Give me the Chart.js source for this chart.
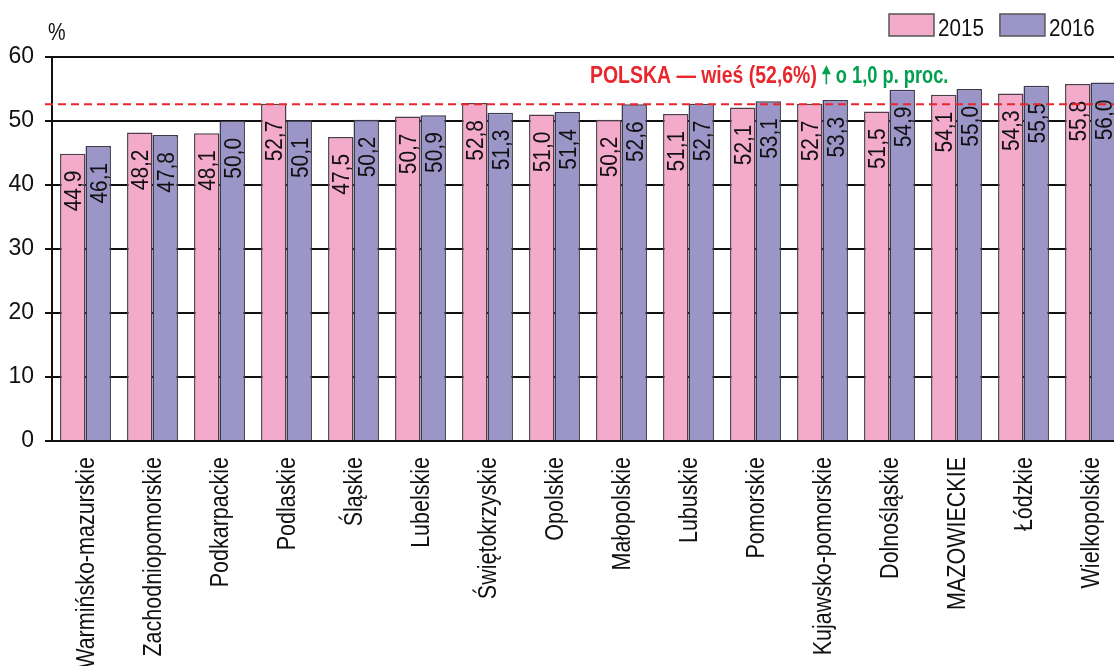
<!DOCTYPE html>
<html>
<head>
<meta charset="utf-8">
<script src="https://cdn.jsdelivr.net/npm/chart.js@4.4.0/dist/chart.umd.min.js"></script>
<style>
  html, body { margin: 0; padding: 0; background: #fff; overflow: hidden; }
  #wrap { width: 1124px; height: 666px; }
</style>
</head>
<body>
<div id="wrap"><canvas id="wiesChart" width="1124" height="666"></canvas></div>
<script>
// data
const regions = [
  'Warmińsko-mazurskie', 'Zachodniopomorskie', 'Podkarpackie', 'Podlaskie',
  'Śląskie', 'Lubelskie', 'Świętokrzyskie', 'Opolskie', 'Małopolskie',
  'Lubuskie', 'Pomorskie', 'Kujawsko-pomorskie', 'Dolnośląskie',
  'MAZOWIECKIE', 'Łódzkie', 'Wielkopolskie'
];
const values2015 = [44.9, 48.2, 48.1, 52.7, 47.5, 50.7, 52.8, 51.0, 50.2, 51.1, 52.1, 52.7, 51.5, 54.1, 54.3, 55.8];
const values2016 = [46.1, 47.8, 50.0, 50.1, 50.2, 50.9, 51.3, 51.4, 52.6, 52.7, 53.1, 53.3, 54.9, 55.0, 55.5, 56.0];
const seriesNames = ['2015', '2016'];
const yMin = 0, yMax = 60, yStep = 10;
const polskaWies = 52.6;
const polskaText = 'POLSKA — wieś (52,6%)';
const changeText = 'o 1,0 p. proc.';

// no narrow font installed, so text is squeezed by hand
const FONT = '"Liberation Sans", Arial, sans-serif';
const SQUEEZE = 0.86;
const fmt = v => v.toFixed(1).replace('.', ',');

function drawText(ctx, text, x, y, o) {
  ctx.save();
  ctx.font = o.font;
  ctx.fillStyle = o.color || '#111';
  ctx.textAlign = o.align || 'left';
  ctx.textBaseline = 'alphabetic';
  ctx.translate(x, y);
  if (o.rotate) ctx.rotate(o.rotate);
  ctx.scale(o.sx || SQUEEZE, 1);
  ctx.fillText(text, 0, 0);
  const w = ctx.measureText(text).width * (o.sx || SQUEEZE);
  ctx.restore();
  return w;
}

// value labels, rotated, inside the top of each bar
const valueLabels = {
  id: 'valueLabels',
  afterDatasetsDraw(chart) {
    const ctx = chart.ctx;
    chart.data.datasets.forEach((ds, i) => {
      chart.getDatasetMeta(i).data.forEach((bar, j) => {
        drawText(ctx, fmt(ds.data[j]), bar.x + 8.5, bar.y + 17, {
          font: '24px ' + FONT, align: 'right', rotate: -Math.PI / 2, sx: 0.87
        });
      });
    });
  }
};

// category names under the axis, rotated
const categoryLabels = {
  id: 'categoryLabels',
  afterDraw(chart) {
    const ctx = chart.ctx;
    const xs = chart.scales.x;
    chart.data.labels.forEach((lab, i) => {
      drawText(ctx, lab, xs.getPixelForTick(i) + 8.5, xs.top + 16, {
        font: '25px ' + FONT, align: 'right', rotate: -Math.PI / 2
      });
    });
  }
};

// dashed national line + note
const polskaLine = {
  id: 'polskaLine',
  afterDatasetsDraw(chart) {
    const ctx = chart.ctx;
    const area = chart.chartArea;
    const y = chart.scales.y.getPixelForValue(polskaWies);
    ctx.save();
    ctx.strokeStyle = '#e8262c';
    ctx.lineWidth = 2;
    ctx.setLineDash([8, 5]);
    ctx.beginPath();
    ctx.moveTo(area.left - 7, y);
    ctx.lineTo(area.right, y);
    ctx.stroke();
    ctx.restore();

    const base = y - 21;
    let x = 590;
    x += drawText(ctx, polskaText, x, base, { font: 'bold 24px ' + FONT, color: '#e8262c', sx: 0.81 }) + 5;

    // small green arrow
    ctx.save();
    ctx.fillStyle = '#00a04f';
    ctx.strokeStyle = '#00a04f';
    ctx.lineWidth = 1.6;
    ctx.beginPath();
    ctx.moveTo(x + 4.5, base + 1);
    ctx.lineTo(x + 4.5, base - 11);
    ctx.stroke();
    ctx.beginPath();
    ctx.moveTo(x, base - 9);
    ctx.lineTo(x + 4.5, base - 18);
    ctx.lineTo(x + 9, base - 9);
    ctx.closePath();
    ctx.fill();
    ctx.restore();
    x += 14;
    drawText(ctx, changeText, x, base, { font: 'bold 24px ' + FONT, color: '#00a04f', sx: 0.76 });
  }
};

// "%" unit and legend boxes
const extras = {
  id: 'extras',
  afterDraw(chart) {
    const ctx = chart.ctx;
    drawText(ctx, '%', 48, 40, { font: '23px ' + FONT });

    let x = 889;
    chart.data.datasets.forEach(ds => {
      ctx.save();
      ctx.fillStyle = ds.backgroundColor;
      ctx.fillRect(x, 14, 45, 22);
      ctx.strokeStyle = '#555';
      ctx.lineWidth = 1.5;
      ctx.strokeRect(x, 14, 45, 22);
      ctx.restore();
      const w = drawText(ctx, ds.label, x + 49, 36, { font: '24px ' + FONT });
      x += 49 + w + 16;
    });
  }
};

const chart = new Chart(document.getElementById('wiesChart'), {
  type: 'bar',
  data: {
    labels: regions,
    datasets: [
      {
        label: seriesNames[0],
        data: values2015,
        backgroundColor: '#f4aacb',
        borderColor: '#4d3e47',
        borderWidth: 1.5
      },
      {
        label: seriesNames[1],
        data: values2016,
        backgroundColor: '#9c96c8',
        borderColor: '#3c3a4f',
        borderWidth: 1.5
      }
    ]
  },
  options: {
    responsive: false,
    animation: false,
    devicePixelRatio: 1,
    layout: { padding: { top: 57, left: 0, right: 0, bottom: 0 } },
    datasets: { bar: { categoryPercentage: 0.76, barPercentage: 1.0 } },
    plugins: {
      legend: { display: false },
      tooltip: { enabled: false }
    },
    scales: {
      x: {
        offset: true,
        grid: { display: false, drawTicks: false },
        border: { display: true, color: '#111', width: 2 },
        ticks: { display: false },
        afterFit(scale) { scale.height = 225; }
      },
      y: {
        min: yMin,
        max: yMax,
        grid: { color: '#111', lineWidth: 2, tickLength: 7 },
        border: { display: true, color: '#111', width: 2 },
        ticks: {
          stepSize: yStep,
          color: '#111',
          font: { family: FONT, size: 23 },
          padding: 11
        },
        afterFit(scale) { scale.width = 52; }
      }
    }
  },
  plugins: [valueLabels, polskaLine, categoryLabels, extras]
});
</script>
</body>
</html>
